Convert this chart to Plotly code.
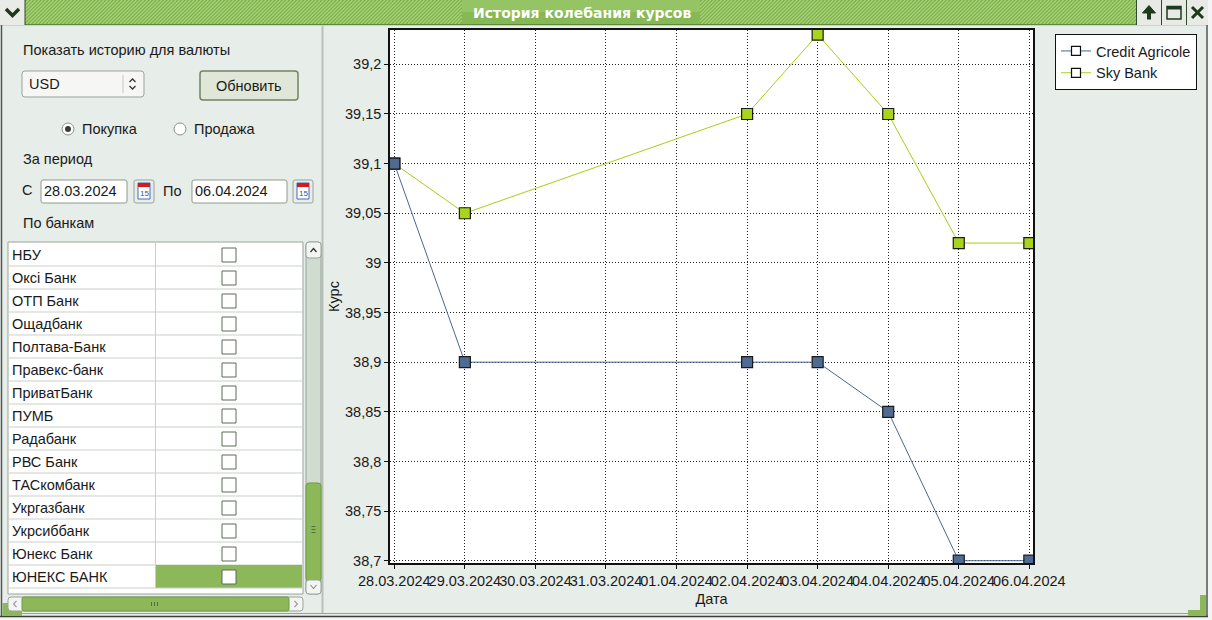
import plotly.graph_objects as go

# ---------------- data ----------------
dates = ["2024-03-28", "2024-03-29", "2024-04-02", "2024-04-03",
         "2024-04-04", "2024-04-05", "2024-04-06"]
credit_agricole = [39.10, 38.90, 38.90, 38.90, 38.85, 38.70, 38.70]
sky_bank = [39.10, 39.05, 39.15, 39.23, 39.15, 39.02, 39.02]
series_names = ["Credit Agricole", "Sky Bank"]

x_tick_dates = ["2024-03-28", "2024-03-29", "2024-03-30", "2024-03-31", "2024-04-01",
                "2024-04-02", "2024-04-03", "2024-04-04", "2024-04-05", "2024-04-06"]
x_tick_labels = ["28.03.2024", "29.03.2024", "30.03.2024", "31.03.2024", "01.04.2024",
                 "02.04.2024", "03.04.2024", "04.04.2024", "05.04.2024", "06.04.2024"]
y_tick_values = [38.70, 38.75, 38.80, 38.85, 38.90, 38.95, 39.00, 39.05, 39.10, 39.15, 39.20]
y_tick_labels = ["38,7", "38,75", "38,8", "38,85", "38,9", "38,95", "39", "39,05", "39,1", "39,15", "39,2"]

banks = ["НБУ", "Оксі Банк", "ОТП Банк", "Ощадбанк", "Полтава-Банк", "Правекс-банк",
         "ПриватБанк", "ПУМБ", "Радабанк", "РВС Банк", "ТАСкомбанк", "Укргазбанк",
         "Укрсиббанк", "Юнекс Банк", "ЮНЕКС БАНК"]

window_title = "История колебания курсов"
date_from = "28.03.2024"
date_to = "06.04.2024"
currency = "USD"

# ---------------- styling ----------------
W, H = 1212, 620
L, R, T, B = 390, 1033, 30, 563          # plot area in pixels
BG = "#e7ede8"
GREEN = "#8cb85a"
UIFONT = "Liberation Sans, Arial, sans-serif"
TXT = "#1a1a1a"
FS = 14.5
CA_COLOR = "#4d6790"
SKY_COLOR = "#a6cf14"


def px(x):
    return (x - L) / (R - L)


def py(y):
    return (B - y) / (B - T)


shapes = []
annots = []


def rect(x0, y0, x1, y1, fill, line=None, lw=1):
    shapes.append(dict(type="rect", xref="paper", yref="paper", layer="above",
                       x0=px(x0), x1=px(x1), y0=py(y1), y1=py(y0), fillcolor=fill,
                       line=dict(color=line if line else fill, width=lw if line else 0)))


def seg(x0, y0, x1, y1, color, lw=1, dash=None):
    d = dict(color=color, width=lw)
    if dash:
        d["dash"] = dash
    shapes.append(dict(type="line", xref="paper", yref="paper", layer="above",
                       x0=px(x0), x1=px(x1), y0=py(y0), y1=py(y1), line=d))


def path(pts_cmds, fill=None, line=None, lw=1):
    shapes.append(dict(type="path", xref="paper", yref="paper", layer="above",
                       path=pts_cmds, fillcolor=fill if fill else "rgba(0,0,0,0)",
                       line=dict(color=line if line else "rgba(0,0,0,0)", width=lw if line else 0)))


def P(x, y):
    return f"{px(x):.6f},{py(y):.6f}"


def rrect(x0, y0, x1, y1, r, fill, line=None, lw=1):
    p = (f"M {P(x0 + r, y0)} L {P(x1 - r, y0)} Q {P(x1, y0)} {P(x1, y0 + r)} "
         f"L {P(x1, y1 - r)} Q {P(x1, y1)} {P(x1 - r, y1)} L {P(x0 + r, y1)} "
         f"Q {P(x0, y1)} {P(x0, y1 - r)} L {P(x0, y0 + r)} Q {P(x0, y0)} {P(x0 + r, y0)} Z")
    path(p, fill, line, lw)


def circle(cx, cy, r, fill, line=None, lw=1):
    shapes.append(dict(type="circle", xref="paper", yref="paper", layer="above",
                       x0=px(cx - r), x1=px(cx + r), y0=py(cy + r), y1=py(cy - r),
                       fillcolor=fill, line=dict(color=line if line else fill, width=lw if line else 0)))


def text(x, y, s, size=FS, color=TXT, anchor="left", family=UIFONT):
    annots.append(dict(xref="paper", yref="paper", x=px(x), y=py(y), text=s,
                       showarrow=False, xanchor=anchor, yanchor="middle",
                       font=dict(size=size, color=color, family=family)))


def stripes(a, b, top=0, bot=24, step=3.6):
    h = bot - top
    cmds = []
    x0 = a - h
    while x0 < b:
        t0 = max(0, a - x0)
        t1 = min(h, b - x0)
        if t1 > t0:
            cmds.append(f"M {P(x0 + t0, bot - t0)} L {P(x0 + t1, bot - t1)}")
        x0 += step
    shapes.append(dict(type="path", xref="paper", yref="paper", layer="above",
                       path=" ".join(cmds), line=dict(color="#a4d175", width=1.4)))


# ---------------- window chrome ----------------
rect(1208, 0, 1212, 620, "#f4f4f4")
rect(0, 617, 1212, 620, "#f4f4f4")
# title bar
rect(0, 0, 1208, 26, "#7fb04d")
stripes(25, 462)
stripes(700, 1137)
rect(462, 0, 700, 12, "#94c463")
rect(462, 12, 700, 24, "#86b855")
seg(0, 24.5, 1208, 24.5, "#5f8a3a", 1)
seg(0, 25.5, 1208, 25.5, "#c9d6c4", 1)
text(582, 12.5, "<b>" + window_title + "</b>", size=14, color="#ffffff",
     anchor="center", family="DejaVu Sans, sans-serif")
# left menu button
rect(0, 0, 25, 25, "#e9ebe6")
seg(25, 0, 25, 25, "#2f4a2f", 1)
path(f"M {P(6, 9)} L {P(12.5, 15.5)} L {P(19, 9)}", line="#1d3a1d", lw=3.5)
# right buttons
for bx0, bx1 in [(1137, 1161), (1162, 1186), (1187, 1208)]:
    rect(bx0, 0, bx1, 25, "#e8eae6")
    seg(bx0 - 0.5, 0, bx0 - 0.5, 25, "#2f4a2f", 1)
path(f"M {P(1142.5, 13)} L {P(1149, 5.5)} L {P(1155.5, 13)} Z", fill="#1d3a1d", line="#1d3a1d", lw=1)
rect(1147, 12, 1151, 19.5, "#1d3a1d")
rect(1167, 6.5, 1181, 19, "rgba(0,0,0,0)", line="#1d3a1d", lw=1.5)
rect(1167, 6.5, 1181, 9.5, "#1d3a1d")
seg(1192, 7, 1203, 18, "#1d3a1d", 3)
seg(1203, 7, 1192, 18, "#1d3a1d", 3)
# frame
seg(1.5, 25, 1.5, 617, "#505a50", 1.5)
seg(1207, 25, 1207, 617, "#505a50", 1.5)
seg(0, 616.5, 1208, 616.5, "#3a3f3a", 1.5)
seg(3, 613.5, 1206, 613.5, "#9aa09a", 1)
rect(2.5, 603, 22, 616, GREEN)
path(f"M {P(1188, 616)} L {P(1206, 616)} L {P(1206, 595)} L {P(1200, 595)} L {P(1200, 610)} L {P(1188, 610)} Z",
     fill=GREEN)
# splitter
seg(322.5, 26, 322.5, 613, "#b9c2b9", 2)

# ---------------- left panel ----------------
text(21, 50, "Показать историю для валюты")
rrect(22, 71, 144, 97, 3, "#f6f7f5", line="#9aa39a")
text(27, 84, currency)
seg(123, 75, 123, 93, "#c2c6c2", 1)
path(f"M {P(129.5, 82)} L {P(132.5, 79)} L {P(135.5, 82)}", line="#333", lw=1.3)
path(f"M {P(129.5, 86)} L {P(132.5, 89)} L {P(135.5, 86)}", line="#333", lw=1.3)
rrect(200, 71, 298, 100, 3, "#e0e7d8", line="#728363", lw=1.5)
text(249, 85.5, "Обновить", anchor="center")
circle(68, 129, 6, "#ffffff", line="#8b918b")
circle(68, 129, 3, "#3a3a3a")
text(80, 129, "Покупка")
circle(180, 129, 6, "#ffffff", line="#8b918b")
text(192, 129, "Продажа")
text(21, 159, "За период")
text(20, 190, "С")
rrect(41, 180, 127, 203, 2, "#ffffff", line="#8f9a8f")
text(42, 191, date_from)
text(161, 191, "По")
rrect(192, 180, 287, 203, 2, "#ffffff", line="#8f9a8f")
text(193, 191, date_to)
for cx0 in (134, 293):
    rrect(cx0, 180, cx0 + 20, 203, 2, "#e9ece7", line="#9aa39a")
    rect(cx0 + 4, 183, cx0 + 16, 199, "#ffffff", line="#3b6cc4", lw=1)
    rect(cx0 + 4, 183, cx0 + 16, 187, "#d51b1b")
    text(cx0 + 10, 193.5, "15", size=8, color="#2a55a8", anchor="center")
text(21, 223, "По банкам")

# table
rect(8, 242, 303, 594, "#ffffff", line="#9aa39a")
ROW = 23
for i, name in enumerate(banks):
    y0 = 243 + ROW * i
    y1 = y0 + ROW
    if i == len(banks) - 1:
        rect(156, y0, 302, y1, GREEN)
    seg(9, y1, 302, y1, "#cbcfcb", 1)
    text(10, y0 + 11.5, name)
    rect(222, y0 + 5, 236, y0 + 19, "#ffffff", line="#5b6a5b", lw=1)
seg(155.5, 243, 155.5, 243 + ROW * len(banks), "#cbcfcb", 1)

# vertical scrollbar
rrect(306, 242, 321, 594, 3, "#cfdccf", line="#9aa39a")
rrect(306, 242, 321, 258, 3, "#f3f5f2", line="#9aa39a")
path(f"M {P(310.5, 252)} L {P(313.5, 248.5)} L {P(316.5, 252)}", line="#333", lw=1.3)
rrect(306, 483, 321, 581, 3, GREEN, line="#6e9a47")
for gy in (526.5, 529.5, 532.5):
    seg(311.5, gy, 315.5, gy, "#556b45", 1)
rrect(306, 580, 321, 594, 3, "#f3f5f2", line="#9aa39a")
path(f"M {P(310.5, 585)} L {P(313.5, 588.5)} L {P(316.5, 585)}", line="#888", lw=1.1)

# horizontal scrollbar
rrect(8, 597, 303, 611, 3, "#f3f5f2", line="#9aa39a")
rrect(22, 597, 289, 611, 2, GREEN, line="#6e9a47")
for gx in (151.5, 154.5, 157.5):
    seg(gx, 602, gx, 606, "#556b45", 1)
path(f"M {P(16.5, 601)} L {P(13.5, 604)} L {P(16.5, 607)}", line="#999", lw=1.1)
path(f"M {P(294.5, 601)} L {P(297.5, 604)} L {P(294.5, 607)}", line="#999", lw=1.1)

# ---------------- chart ----------------
fig = go.Figure()
fig.add_trace(go.Scatter(x=dates, y=sky_bank, name=series_names[1], mode="lines+markers",
                         line=dict(color=SKY_COLOR, width=1),
                         marker=dict(symbol="square", size=11, color="#a8d41c",
                                     line=dict(color="#1a1a1a", width=1.2)),
                         showlegend=False))
fig.add_trace(go.Scatter(x=dates, y=credit_agricole, name=series_names[0], mode="lines+markers",
                         line=dict(color=CA_COLOR, width=1),
                         marker=dict(symbol="square", size=11, color="#506b93",
                                     line=dict(color="#1a1a1a", width=1.2)),
                         showlegend=False))
# legend entries (white square symbol on coloured line, as in the original)
for nm, col in zip(series_names, [CA_COLOR, SKY_COLOR]):
    fig.add_trace(go.Scatter(x=[None], y=[None], name=nm, mode="lines+markers",
                             line=dict(color=col, width=1),
                             marker=dict(symbol="square", size=9, color="#ffffff",
                                         line=dict(color="#111111", width=1.2))))

axis_common = dict(showline=True, linecolor="#111111", linewidth=1.5, mirror=True,
                   ticks="outside", ticklen=4, tickcolor="#111111", tickwidth=1,
                   showgrid=True, gridcolor="#222222", gridwidth=1, griddash="1px,2px",
                   zeroline=False, tickfont=dict(family=UIFONT, size=FS, color=TXT))

fig.update_layout(
    width=W, height=H,
    margin=dict(l=L, r=W - R, t=T, b=H - B, autoexpand=False),
    paper_bgcolor=BG, plot_bgcolor="#ffffff",
    font=dict(family=UIFONT, size=FS, color=TXT),
    xaxis=dict(type="date", range=["2024-03-27 22:32", "2024-04-06 01:15"],
               tickmode="array", tickvals=x_tick_dates, ticktext=x_tick_labels, tickangle=0,
               title=dict(text="Дата", standoff=6, font=dict(size=FS, color=TXT)),
               **axis_common),
    yaxis=dict(range=[38.6977, 39.2346], tickmode="array",
               tickvals=y_tick_values, ticktext=y_tick_labels,
               title=dict(text="Курс", standoff=2, font=dict(size=FS, color=TXT)),
               **axis_common),
    legend=dict(x=px(1197), y=py(34), xanchor="right", yanchor="top",
                bgcolor="#ffffff", bordercolor="#111111", borderwidth=1,
                itemwidth=30, tracegroupgap=0, font=dict(size=FS, color=TXT)),
    shapes=shapes, annotations=annots,
    hovermode=False,
)

fig.write_html("out.html", config=dict(displayModeBar=False),
               post_script="document.body.style.margin='0';")
